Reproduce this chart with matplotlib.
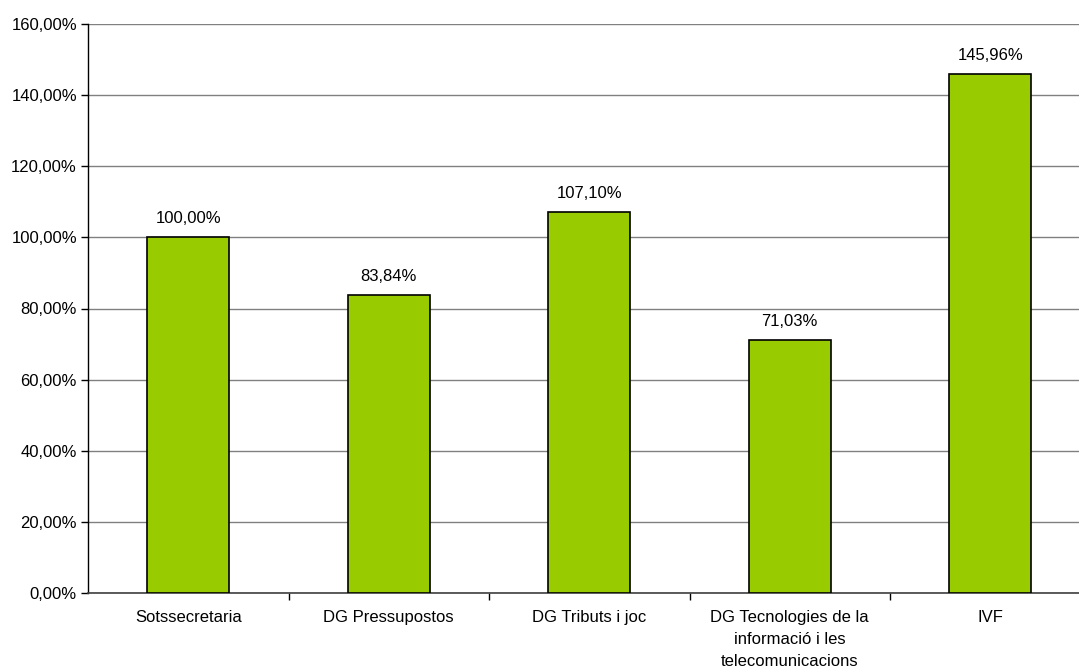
import matplotlib
matplotlib.use("Agg")
import matplotlib.pyplot as plt
from matplotlib.ticker import FuncFormatter

categories = ["Sotssecretaria", "DG Pressupostos", "DG Tributs i joc",
              "DG Tecnologies de la\ninformació i les\ntelecomunicacions", "IVF"]
values = [100.00, 83.84, 107.10, 71.03, 145.96]
value_labels = ["100,00%", "83,84%", "107,10%", "71,03%", "145,96%"]
yticks = [0, 20, 40, 60, 80, 100, 120, 140, 160]

plt.rcParams['font.family'] = ['Liberation Sans', 'DejaVu Sans']
W, H = 1079, 671
fig = plt.figure(figsize=(W/100, H/100), dpi=100)
left, right, top, bottom = 88, 1090.5, 24, 593
ax = fig.add_axes([left/W, 1-bottom/H, (right-left)/W, (bottom-top)/H])

x = list(range(len(categories)))
ax.bar(x, values, width=0.41, color="#99CC00", edgecolor="black", linewidth=1.2, zorder=3)
for xi, v, lab in zip(x, values, value_labels):
    ax.annotate(lab, (xi, v), xytext=(0, 8), textcoords="offset points",
                ha="center", va="bottom", fontsize=12, color="black")

ax.set_xlim(-0.5, len(categories)-0.5)
ax.set_ylim(0, 160)
ax.set_yticks(yticks)
ax.yaxis.set_major_formatter(FuncFormatter(lambda v, p: f"{v:.2f}".replace(".", ",") + "%"))
ax.tick_params(axis="y", labelsize=12, length=5, width=1, color="black", pad=3)
ax.grid(axis="y", color="#808080", linewidth=1, zorder=0)

ax.set_xticks([i + 0.5 for i in x[:-1]], minor=False)
ax.set_xticklabels([])
ax.tick_params(axis="x", length=5, width=1, color="black", direction="out")
ax.set_xticks(x, minor=True)
ax.set_xticklabels(categories, minor=True, fontsize=12, linespacing=1.6, va="top")
ax.tick_params(axis="x", which="minor", length=0, pad=12)

for s in ["top", "right"]:
    ax.spines[s].set_visible(False)
ax.spines["left"].set_color("black")
ax.spines["bottom"].set_color("#404040")
ax.spines["left"].set_linewidth(1)
ax.spines["bottom"].set_linewidth(1.2)

fig.savefig("out.png", dpi=100)
